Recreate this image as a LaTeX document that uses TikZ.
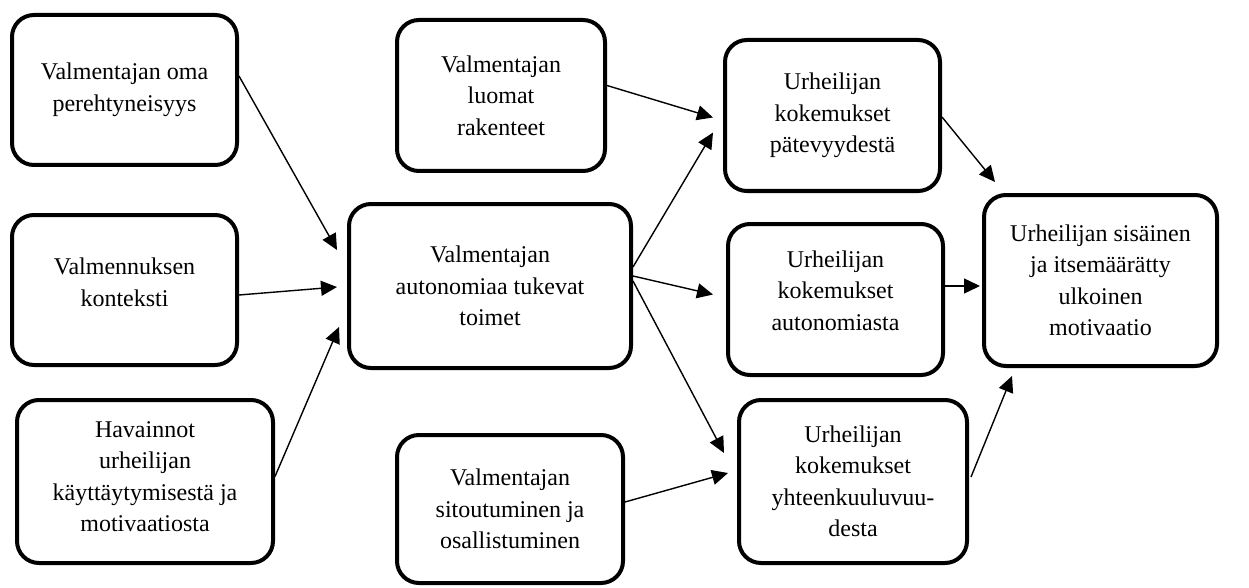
\documentclass[tikz,border=0pt]{standalone}
\usepackage{fontspec}
\setmainfont{Liberation Serif}
\usetikzlibrary{arrows.meta,calc}
\tikzset{
  box/.style={draw, line width=4pt, rounded corners=22pt, align=center,
    font=\fontsize{24}{31.5}\selectfont, inner sep=2pt},
  arr/.style={line width=1.4pt, -{Triangle[length=16pt,width=15pt]}}
}
\begin{document}
\begin{tikzpicture}[x=1pt,y=-1pt]
\useasboundingbox (0,0) rectangle (1249,588);
\node[box, minimum width=225pt, minimum height=150pt] (A) at (124.5,90) {Valmentajan oma\\perehtyneisyys};
\node[box, minimum width=225pt, minimum height=150pt, text depth=16pt] (B) at (124.5,290) {Valmennuksen\\konteksti};
\node[box, minimum width=256pt, minimum height=163pt, text depth=10pt] (C) at (145,481.5) {Havainnot\\urheilijan\\käyttäytymisestä ja\\motivaatiosta};
\node[box, minimum width=208pt, minimum height=151pt] (D) at (501,95.5) {Valmentajan\\luomat\\rakenteet};
\node[box, minimum width=282pt, minimum height=164pt] (E) at (490,286) {Valmentajan\\autonomiaa tukevat\\toimet};
\node[box, minimum width=226pt, minimum height=148pt] (F) at (510,509) {Valmentajan\\sitoutuminen ja\\osallistuminen};
\node[box, minimum width=215pt, minimum height=151pt] (G) at (832.5,115.5) {Urheilijan\\kokemukset\\pätevyydestä};
\node[box, minimum width=215pt, minimum height=151pt, text depth=18pt] (H) at (835.5,299.5) {Urheilijan\\kokemukset\\autonomiasta};
\node[box, minimum width=228pt, minimum height=163pt] (I) at (853,481.5) {Urheilijan\\kokemukset\\yhteenkuuluvuu-\\desta};
\node[box, minimum width=233pt, minimum height=171pt] (J) at (1100.5,280.5) {Urheilijan sisäinen\\ja itsemäärätty\\ulkoinen\\motivaatio};

\draw[arr] ($(A.east)+(0,-14)$) -- ($(E.west)+(-10,-36)$);
\draw[arr] ($(B.east)+(0,5)$) -- ($(E.west)+(-10,1)$);
\draw[arr] ($(C.east)+(0,-5)$) -- ($(E.west)+(-8,41)$);
\draw[arr] ($(D.east)+(0,-10)$) -- ($(G.west)+(-10,2)$);
\draw[arr] ($(E.east)+(0,-19)$) -- ($(G.west)+(-10,17)$);
\draw[arr] ($(E.east)+(0,-10)$) -- ($(H.west)+(-13,-5)$);
\draw[arr] ($(E.east)+(0,-5)$) -- ($(I.west)+(-13,-28.5)$);
\draw[arr] ($(F.east)+(0,-7)$) -- ($(I.west)+(-9,-8.5)$);
\draw[arr] ($(G.east)+(0,1.5)$) -- ($(J.north west)+(13,-11)$);
\draw[arr] ($(H.east)+(0,-13.5)$) -- ($(J.west)+(-2,5.5)$);
\draw[arr] ($(I.east)+(2,-4.5)$) -- ($(J.south west)+(30,8)$);
\end{tikzpicture}
\end{document}
